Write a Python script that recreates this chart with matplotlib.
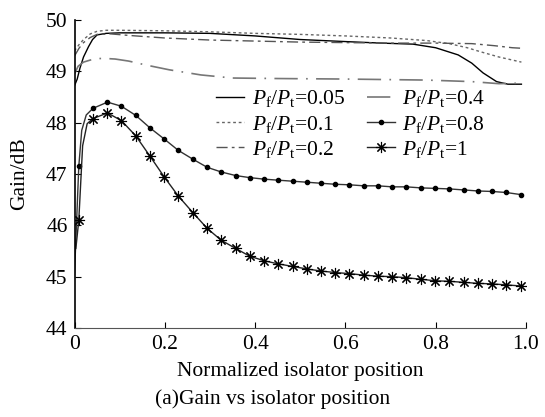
import numpy as np
import matplotlib
matplotlib.use("Agg")
import matplotlib.pyplot as plt

plt.rcParams['font.family'] = 'serif'
plt.rcParams['font.serif'] = ['Liberation Serif', 'DejaVu Serif']
plt.rcParams['mathtext.fontset'] = 'custom'
plt.rcParams['mathtext.rm'] = 'Liberation Serif'
plt.rcParams['mathtext.it'] = 'Liberation Serif:italic'

# sample positions where the high-power curves carry markers
x_grid = [0.0095, 0.041, 0.073, 0.104, 0.136, 0.167, 0.199, 0.230, 0.262, 0.294,
          0.325, 0.357, 0.388, 0.420, 0.451, 0.483, 0.515, 0.546, 0.578, 0.609,
          0.641, 0.672, 0.704, 0.735, 0.767, 0.799, 0.830, 0.862, 0.893, 0.925,
          0.956, 0.988]

# Pf/Pt = 0.05
x_005 = [0, 0.006, 0.012, 0.02, 0.031, 0.04, 0.05, 0.07, 0.1, 0.2, 0.3, 0.4, 0.5,
         0.6, 0.68, 0.75, 0.8, 0.85, 0.88, 0.905, 0.935, 0.96, 0.99]
g_005 = [48.72, 48.85, 49.06, 49.28, 49.48, 49.62, 49.71, 49.74, 49.75, 49.75, 49.74,
         49.69, 49.62, 49.58, 49.55, 49.53, 49.46, 49.32, 49.16, 48.97, 48.80, 48.75,
         48.75]

# Pf/Pt = 0.1
x_01 = [0, 0.01, 0.02, 0.035, 0.05, 0.07, 0.1, 0.2, 0.3, 0.4, 0.5, 0.6, 0.7, 0.78,
        0.83, 0.87, 0.9, 0.94, 0.99]
g_01 = [49.40, 49.52, 49.62, 49.73, 49.78, 49.80, 49.80, 49.79, 49.77, 49.74, 49.72,
        49.69, 49.65, 49.60, 49.54, 49.46, 49.38, 49.28, 49.18]

# Pf/Pt = 0.2
x_02 = [0, 0.01, 0.02, 0.035, 0.05, 0.08, 0.12, 0.2, 0.3, 0.4, 0.5, 0.6, 0.7, 0.8,
        0.88, 0.93, 0.97, 0.99]
g_02 = [49.30, 49.45, 49.56, 49.66, 49.72, 49.73, 49.70, 49.65, 49.61, 49.59, 49.57,
        49.56, 49.55, 49.55, 49.54, 49.50, 49.46, 49.45]

# Pf/Pt = 0.4
x_04 = [0, 0.008, 0.02, 0.035, 0.05, 0.07, 0.09, 0.12, 0.16, 0.21, 0.28, 0.35, 0.45,
        0.6, 0.78, 0.88, 0.94, 0.99]
g_04 = [48.95, 49.10, 49.18, 49.22, 49.25, 49.25, 49.24, 49.20, 49.12, 49.03, 48.93,
        48.87, 48.86, 48.85, 48.83, 48.80, 48.76, 48.77]

# Pf/Pt = 0.8 (values at x_grid) and its steep lead-in
lead_x_08 = [0.0, 0.016, 0.026]
lead_g_08 = [45.05, 47.85, 48.15]
g_08 = [47.15, 48.28, 48.40, 48.32, 48.14, 47.90, 47.68, 47.46, 47.29, 47.13,
        47.04, 46.97, 46.93, 46.90, 46.88, 46.86, 46.84, 46.82, 46.80, 46.79,
        46.77, 46.77, 46.75, 46.75, 46.73, 46.72, 46.71, 46.69, 46.67, 46.66,
        46.64, 46.60]

# Pf/Pt = 1 (values at x_grid) and its steep lead-in
lead_x_1 = [0.003, 0.018, 0.028]
lead_g_1 = [45.55, 47.55, 47.98]
g_1 = [46.10, 48.08, 48.19, 48.04, 47.74, 47.35, 46.94, 46.57, 46.25, 45.94,
       45.71, 45.55, 45.40, 45.31, 45.25, 45.20, 45.15, 45.11, 45.08, 45.06,
       45.03, 45.01, 45.00, 44.98, 44.95, 44.92, 44.91, 44.89, 44.87, 44.86,
       44.84, 44.82]


def merge(lead_x, lead_g, gx, gy):
    x = np.array(list(lead_x) + list(gx))
    y = np.array(list(lead_g) + list(gy))
    order = np.argsort(x)
    x, y = x[order], y[order]
    marks = list(np.isin(x, gx))
    return x, y, marks


def label(r):
    return r'$P_{\rm f}/P_{\rm t}$=' + r


fig = plt.figure(figsize=(5.45, 4.17), dpi=100)
ax = fig.add_axes([0.1367, 0.2134, 0.8283, 0.7386])

ax.plot(x_005, g_005, color='black', lw=1.0, label=label('0.05'))
ax.plot(x_01, g_01, color='#666666', lw=1.0, dashes=(2, 2), label=label('0.1'))
ax.plot(x_02, g_02, color='#555555', lw=1.0, dashes=(8, 3, 2, 3), label=label('0.2'))
ax.plot(x_04, g_04, color='#777777', lw=1.2, dashes=(14, 5, 1, 5), label=label('0.4'))

x8, y8, m8 = merge(lead_x_08, lead_g_08, x_grid, g_08)
ax.plot(x8, y8, color='#333333', lw=1.0, marker='o', ms=3.0, mfc='black', mec='black',
        markevery=m8, label=label('0.8'))

x1, y1, m1 = merge(lead_x_1, lead_g_1, x_grid, g_1)
ax.plot(x1, y1, color='#222222', lw=1.0, marker=(8, 2, 0), ms=8, mec='black', mew=0.8,
        markevery=m1, label=label('1'))

ax.set_xlim(0, 1.0)
ax.set_ylim(44, 50)
ax.set_xticks([0, 0.2, 0.4, 0.6, 0.8, 1.0])
ax.set_xticklabels(['0', '0.2', '0.4', '0.6', '0.8', '1.0'])
ax.set_yticks([44, 45, 46, 47, 48, 49, 50])

for side in ['top', 'right']:
    ax.spines[side].set_visible(False)
ax.spines['left'].set_linewidth(1.2)
ax.spines['bottom'].set_color('#555555')
ax.tick_params(direction='in', length=4, labelsize=15.5, pad=5)

ax.set_xlabel('Normalized isolator position', fontsize=15.5, labelpad=6)
ax.set_ylabel('Gain/dB', fontsize=15.5, labelpad=12)
fig.text(0.5, 0.043, '(a)Gain vs isolator position', ha='center', va='center', fontsize=15.5)

ax.legend(ncol=2, frameon=False, fontsize=15.5, loc='upper left',
          bbox_to_anchor=(0.285, 0.82), handlelength=1.3, handletextpad=0.35,
          columnspacing=1.0, labelspacing=0.2, borderpad=0.1)

fig.savefig('out.png', dpi=100)
